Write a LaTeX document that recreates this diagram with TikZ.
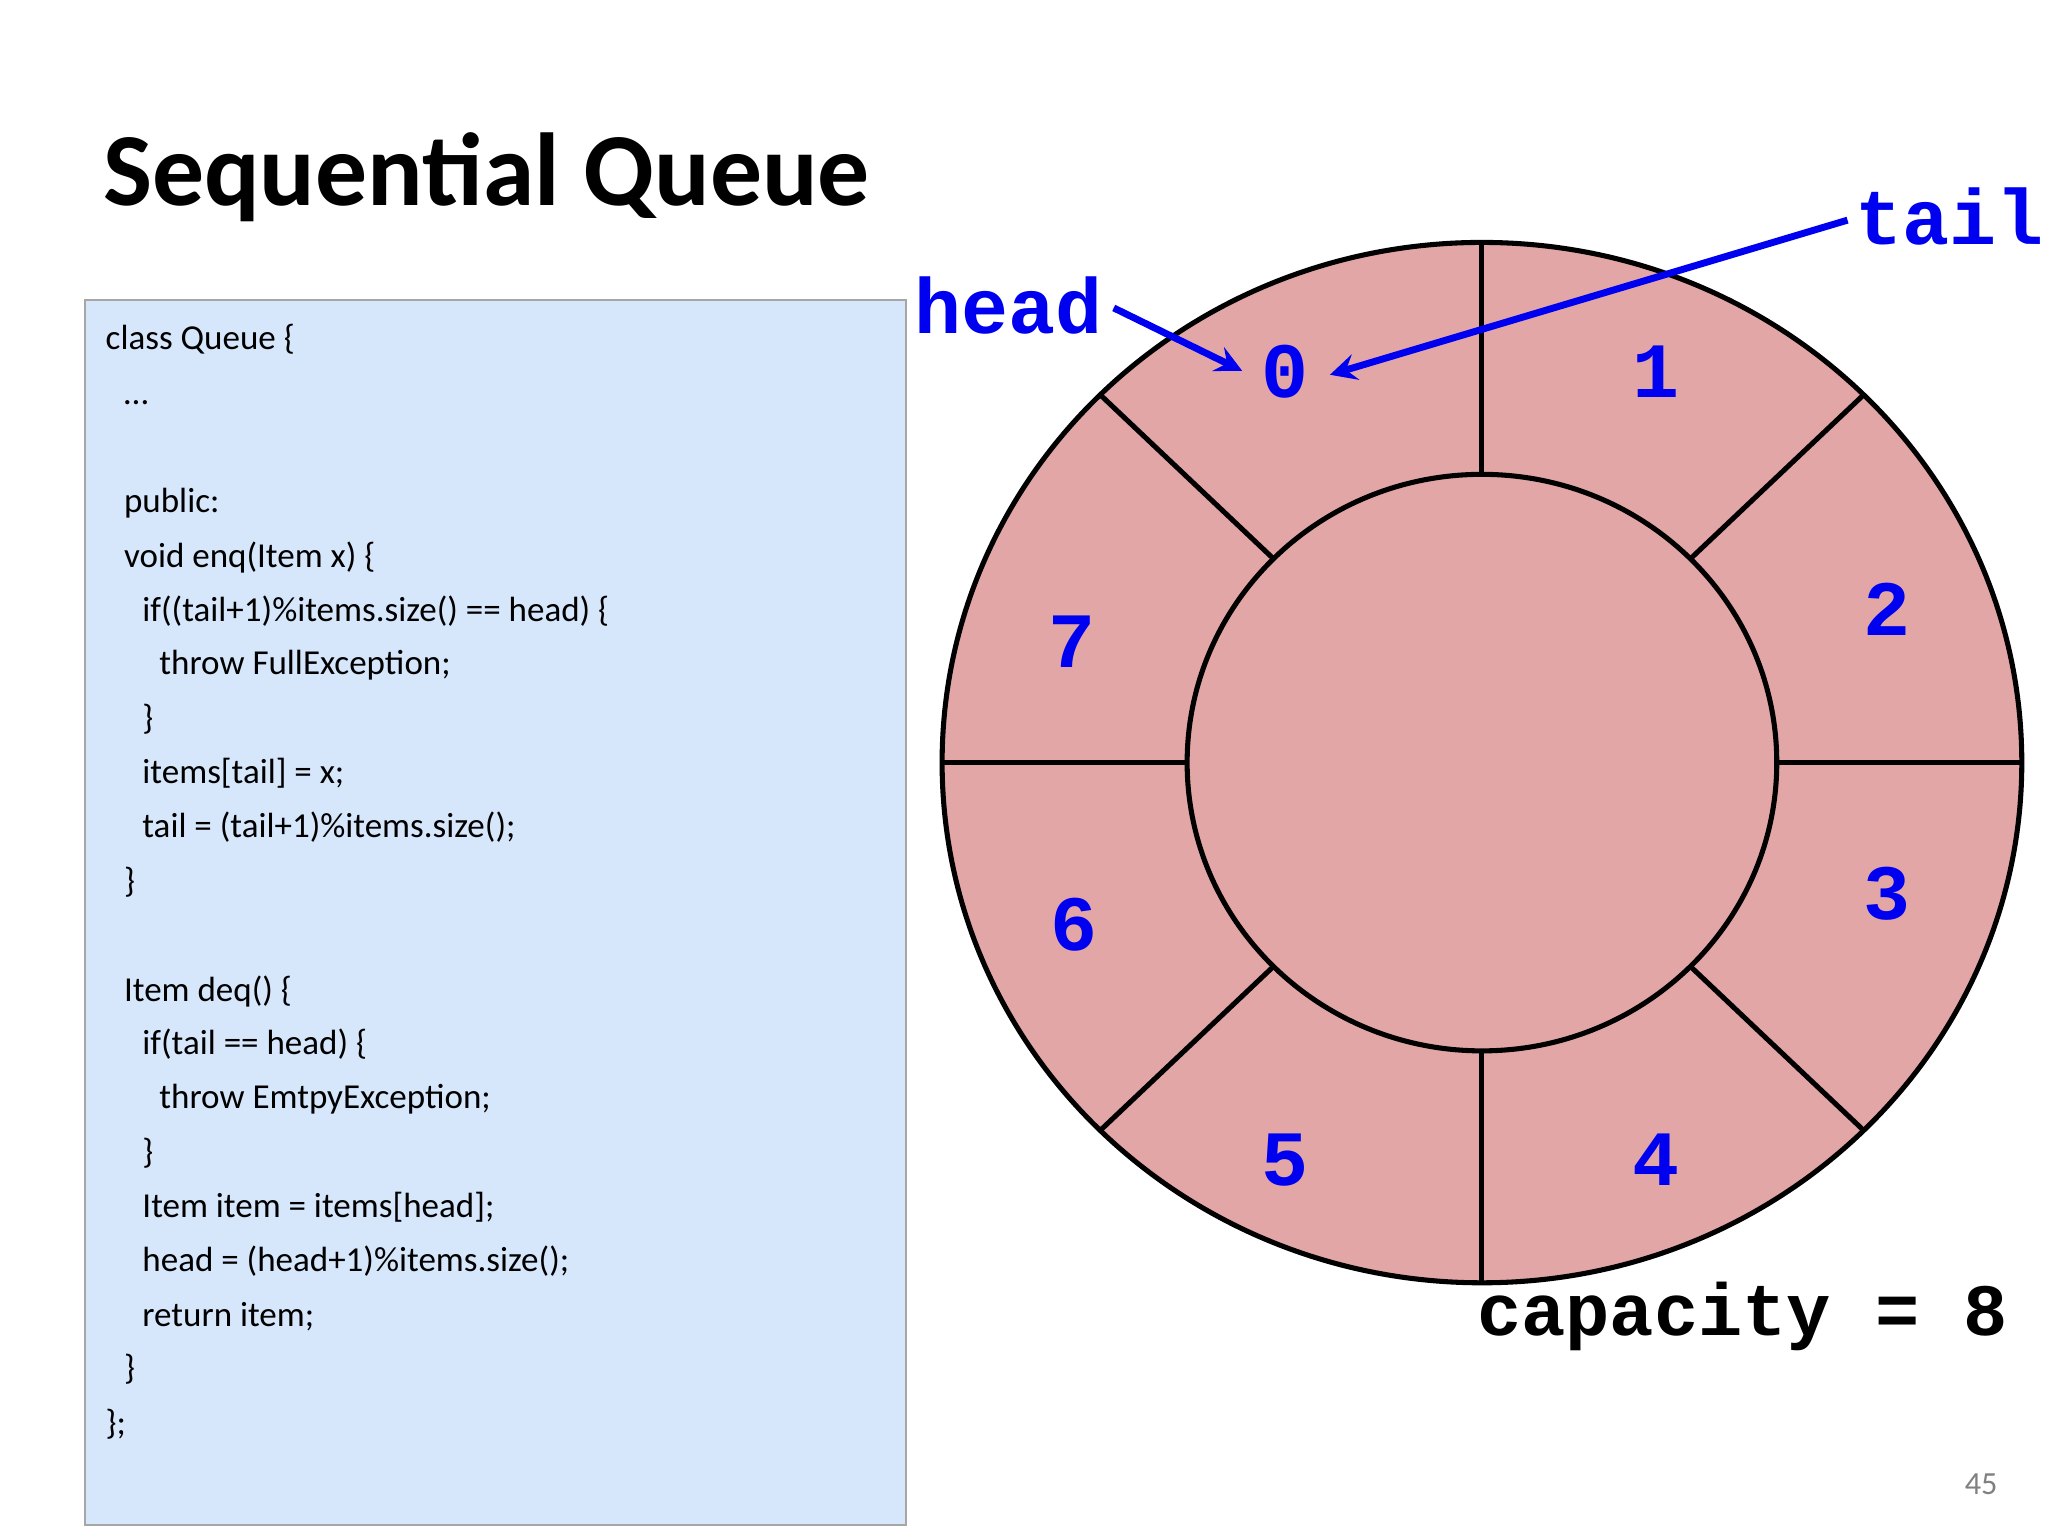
\documentclass[tikz,border=0pt]{standalone}
\usepackage{fontspec}
\setmainfont{Carlito}
\setmonofont{Liberation Mono}
\usepackage[dvipsnames,svgnames]{xcolor}
\usetikzlibrary{positioning, calc}
\definecolor{slot}{HTML}{E3A6A6}
\definecolor{codebg}{HTML}{D6E6FB}
\definecolor{idx}{HTML}{0000F0}
\tikzset{
  code/.style={anchor=base west, inner sep=0pt, font=\fontsize{7.6}{9}\selectfont},
  index/.style={text=idx, font=\ttfamily\bfseries\fontsize{17}{20}\selectfont},
  pointer/.style={draw=idx, line width=1.5pt, ->, >=stealth},
  ring/.style={draw=black, line width=1.1pt}
}
\begin{document}
\begin{tikzpicture}[x=0.01cm, y=-0.01cm]
   \useasboundingbox (0,0) rectangle (1563,1172);
   % title
   \node[anchor=base west, inner sep=0pt, font=\bfseries\fontsize{22.5}{26}\selectfont] (title) at (78,157) {Sequential Queue};
   % code box
   \node[draw=gray!70, fill=codebg, minimum width=627*0.01cm, minimum height=935*0.01cm, anchor=north west, inner sep=0pt] (box) at (64,228) {};
   \node[code] (l1) at (80,267) {class Queue \{};
   \node[code] (l2) at (94,309) {…};
   \node[code] (l3) at (94,391) {public:};
   \node[code] (l4) at (94,433) {void enq(Item x) \{};
   \node[code] (l5) at (108,474) {if((tail+1)\%items.size() == head) \{};
   \node[code] (l6) at (121,515) {throw FullException;};
   \node[code] (l7) at (108,557) {\}};
   \node[code] (l8) at (108,598) {items[tail] = x;};
   \node[code] (l9) at (108,639) {tail = (tail+1)\%items.size();};
   \node[code] (l10) at (94,681) {\}};
   \node[code] (l11) at (94,764) {Item deq() \{};
   \node[code] (l12) at (108,805) {if(tail == head) \{};
   \node[code] (l13) at (121,846) {throw EmtpyException;};
   \node[code] (l14) at (108,888) {\}};
   \node[code] (l15) at (108,929) {Item item = items[head];};
   \node[code] (l16) at (108,970) {head = (head+1)\%items.size();};
   \node[code] (l17) at (108,1012) {return item;};
   \node[code] (l18) at (94,1053) {\}};
   \node[code] (l19) at (80,1095) {\};};
   % ring buffer
   \coordinate (c) at (1131,582);
   \fill[slot] (c) ellipse [x radius=412, y radius=397];
   \draw[ring] (c) ellipse [x radius=412, y radius=397];
   \draw[ring] (c) ellipse [x radius=225, y radius=220];
   \foreach \a in {0,45,...,315}
     \draw[ring] ($(c)+(\a:225 and -220)$) -- ($(c)+(\a:412 and -397)$);
   % indices
   \node[index] (i0) at (981,284) {0};
   \node[index] (i1) at (1264,284) {1};
   \node[index] (i2) at (1440,465) {2};
   \node[index] (i3) at (1440,682) {3};
   \node[index] (i4) at (1264,885) {4};
   \node[index] (i5) at (981,885) {5};
   \node[index] (i6) at (820,706) {6};
   \node[index] (i7) at (818,490) {7};
   % pointers
   \node[index, inner sep=2pt] (head) at (770,233) {head};
   \node[index, inner sep=2pt] (tail) at (1488,165) {tail};
   \coordinate (headend) at (948,283);
   \coordinate (tailend) at (1015,286);
   \draw[pointer] (850,235) -- (headend);
   \draw[pointer] (1410,168) -- (tailend);
   \node[font=\ttfamily\bfseries\fontsize{16}{19}\selectfont] (cap) at (1330,1005) {capacity = 8};
   \node[text=gray, font=\fontsize{7}{8}\selectfont] (page) at (1512,1133) {45};
\end{tikzpicture}
\end{document}
